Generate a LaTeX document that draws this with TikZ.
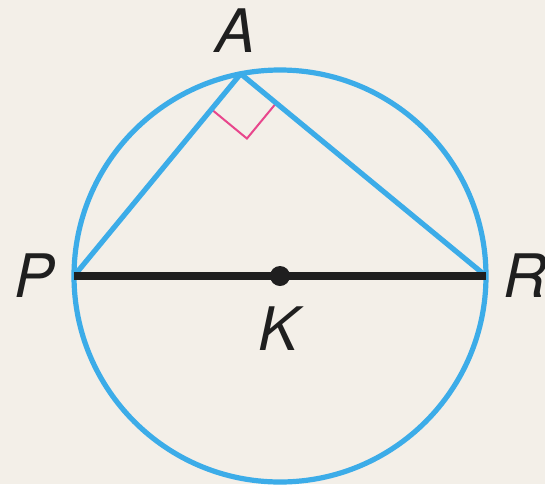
\documentclass[tikz,border=0pt]{standalone}
\usepackage{fontspec}
\setmainfont{TeX Gyre Heros}
\usetikzlibrary{calc}
\definecolor{circblue}{RGB}{60,172,232}
\definecolor{anglepink}{RGB}{232,70,140}
\definecolor{paperbg}{RGB}{243,239,232}
\tikzset{
	circline/.style={draw=circblue, line width=2.6pt},
	diamline/.style={draw=black!88, line width=4.2pt},
	rightmark/.style={draw=anglepink, line width=1pt},
	ptlabel/.style={font=\fontsize{30}{36}\selectfont\itshape, inner sep=0pt, text=black!88}
}

\begin{document}
\begin{tikzpicture}[x=0.5pt, y=0.5pt]
			\fill[paperbg] (0,0) rectangle (545,484);
			\useasboundingbox (0,0) rectangle (545,484);
			\coordinate (K) at (280,208);
			\coordinate (A) at ($(K)+(101:206)$);
			\coordinate (P) at ($(K)+(180:206)$);
			\coordinate (R) at ($(K)+(0:206)$);
			% right angle at A
			\coordinate (ma) at ($(A)!23pt!(P)$);
			\coordinate (mb) at ($(A)!23pt!(R)$);
			\draw[rightmark] (ma) -- ($(ma)+(mb)-(A)$) -- (mb);
			\draw[circline] (K) circle (206);
			\draw[circline, line join=round] (P) -- (A) -- (R);
			\draw[diamline] (P) -- (R);
			\fill[black!88] (K) circle (5pt);
			\node[ptlabel] (lA) at (236,453) {A};
			\node[ptlabel] (lP) at (35,208) {P};
			\node[ptlabel] (lR) at (525,208) {R};
			\node[ptlabel] (lK) at (279,155) {K};
		\end{tikzpicture}
\end{document}
